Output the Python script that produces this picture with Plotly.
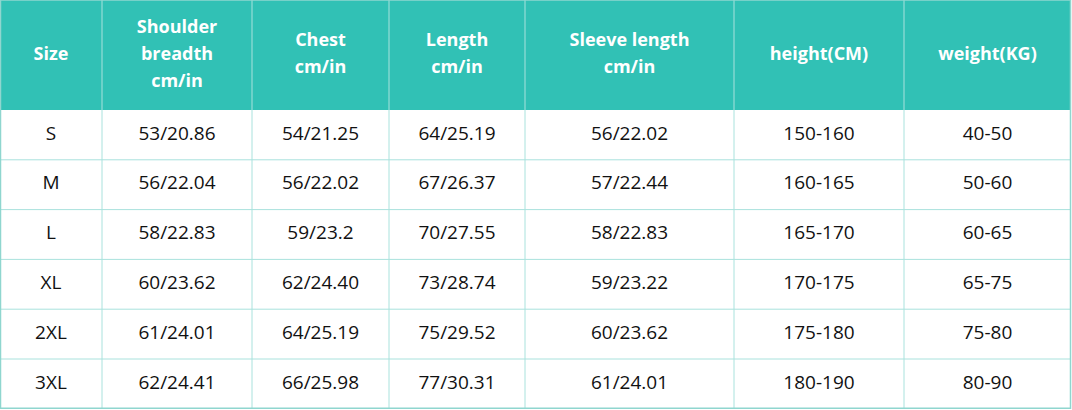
import plotly.graph_objects as go

# Table content
headers = [
    ["Size"],
    ["Shoulder", "breadth", "cm/in"],
    ["Chest", "cm/in"],
    ["Length", "cm/in"],
    ["Sleeve length", "cm/in"],
    ["height(CM)"],
    ["weight(KG)"],
]
sizes = ["S", "M", "L", "XL", "2XL", "3XL"]
shoulder = ["53/20.86", "56/22.04", "58/22.83", "60/23.62", "61/24.01", "62/24.41"]
chest = ["54/21.25", "56/22.02", "59/23.2", "62/24.40", "64/25.19", "66/25.98"]
length = ["64/25.19", "67/26.37", "70/27.55", "73/28.74", "75/29.52", "77/30.31"]
sleeve = ["56/22.02", "57/22.44", "58/22.83", "59/23.22", "60/23.62", "61/24.01"]
height = ["150-160", "160-165", "165-170", "170-175", "175-180", "180-190"]
weight = ["40-50", "50-60", "60-65", "65-75", "75-80", "80-90"]
columns = [sizes, shoulder, chest, length, sleeve, height, weight]

# Layout (pixel units)
col_widths = [102, 150, 137, 136, 209, 170, 167]
header_h = 110
row_h = 49.8
line_gap = 27
W, H = 1072, 410

edges = [0]
for w in col_widths:
    edges.append(edges[-1] + w)
x_mid = [(edges[i] + edges[i + 1]) / 2 for i in range(len(col_widths))]
row_edges = [header_h + k * row_h for k in range(len(sizes) + 1)]

HEAD = "#31c1b5"
GRID = "#a9e2dd"
FONT = "Open Sans, Noto Sans, sans-serif"

fig = go.Figure()

# header text, one point per line
hx, hy, ht = [], [], []
for i, lines in enumerate(headers):
    n = len(lines)
    for j, t in enumerate(lines):
        hx.append(x_mid[i])
        hy.append(header_h / 2 + (j - (n - 1) / 2) * line_gap)
        ht.append(t)
fig.add_trace(go.Scatter(x=hx, y=hy, text=ht, mode="text", hoverinfo="skip",
                         textfont=dict(family=FONT, size=18, color="white", weight="bold")))

# body cells
bx, by, bt = [], [], []
for i, col in enumerate(columns):
    for k, v in enumerate(col):
        bx.append(x_mid[i])
        by.append(header_h + (k + 0.5) * row_h)
        bt.append(v)
fig.add_trace(go.Scatter(x=bx, y=by, text=bt, mode="text", hoverinfo="skip",
                         textfont=dict(family=FONT, size=19, color="#111111")))

shapes = [dict(type="rect", x0=0, x1=edges[-1], y0=0, y1=header_h,
               fillcolor=HEAD, line=dict(width=0), layer="below")]
for x in edges[1:-1]:
    shapes.append(dict(type="line", x0=x, x1=x, y0=0, y1=row_edges[-1],
                       line=dict(color=GRID, width=1)))
for y in row_edges[1:-1]:
    shapes.append(dict(type="line", x0=0, x1=edges[-1], y0=y, y1=y,
                       line=dict(color=GRID, width=1)))
# outer border
shapes.append(dict(type="rect", x0=0.5, x1=edges[-1] - 0.5, y0=0, y1=row_edges[-1] - 0.5,
                   line=dict(color="#8fd6cf", width=1.5)))

fig.update_layout(
    width=W, height=H,
    margin=dict(l=0, r=0, t=0, b=0),
    paper_bgcolor="white", plot_bgcolor="white",
    showlegend=False,
    shapes=shapes,
    xaxis=dict(range=[0, W], visible=False, fixedrange=True),
    yaxis=dict(range=[H, 0], visible=False, fixedrange=True),
)

fig.write_html("out.html", config={"displayModeBar": False},
               post_script="document.body.style.margin='0';")
